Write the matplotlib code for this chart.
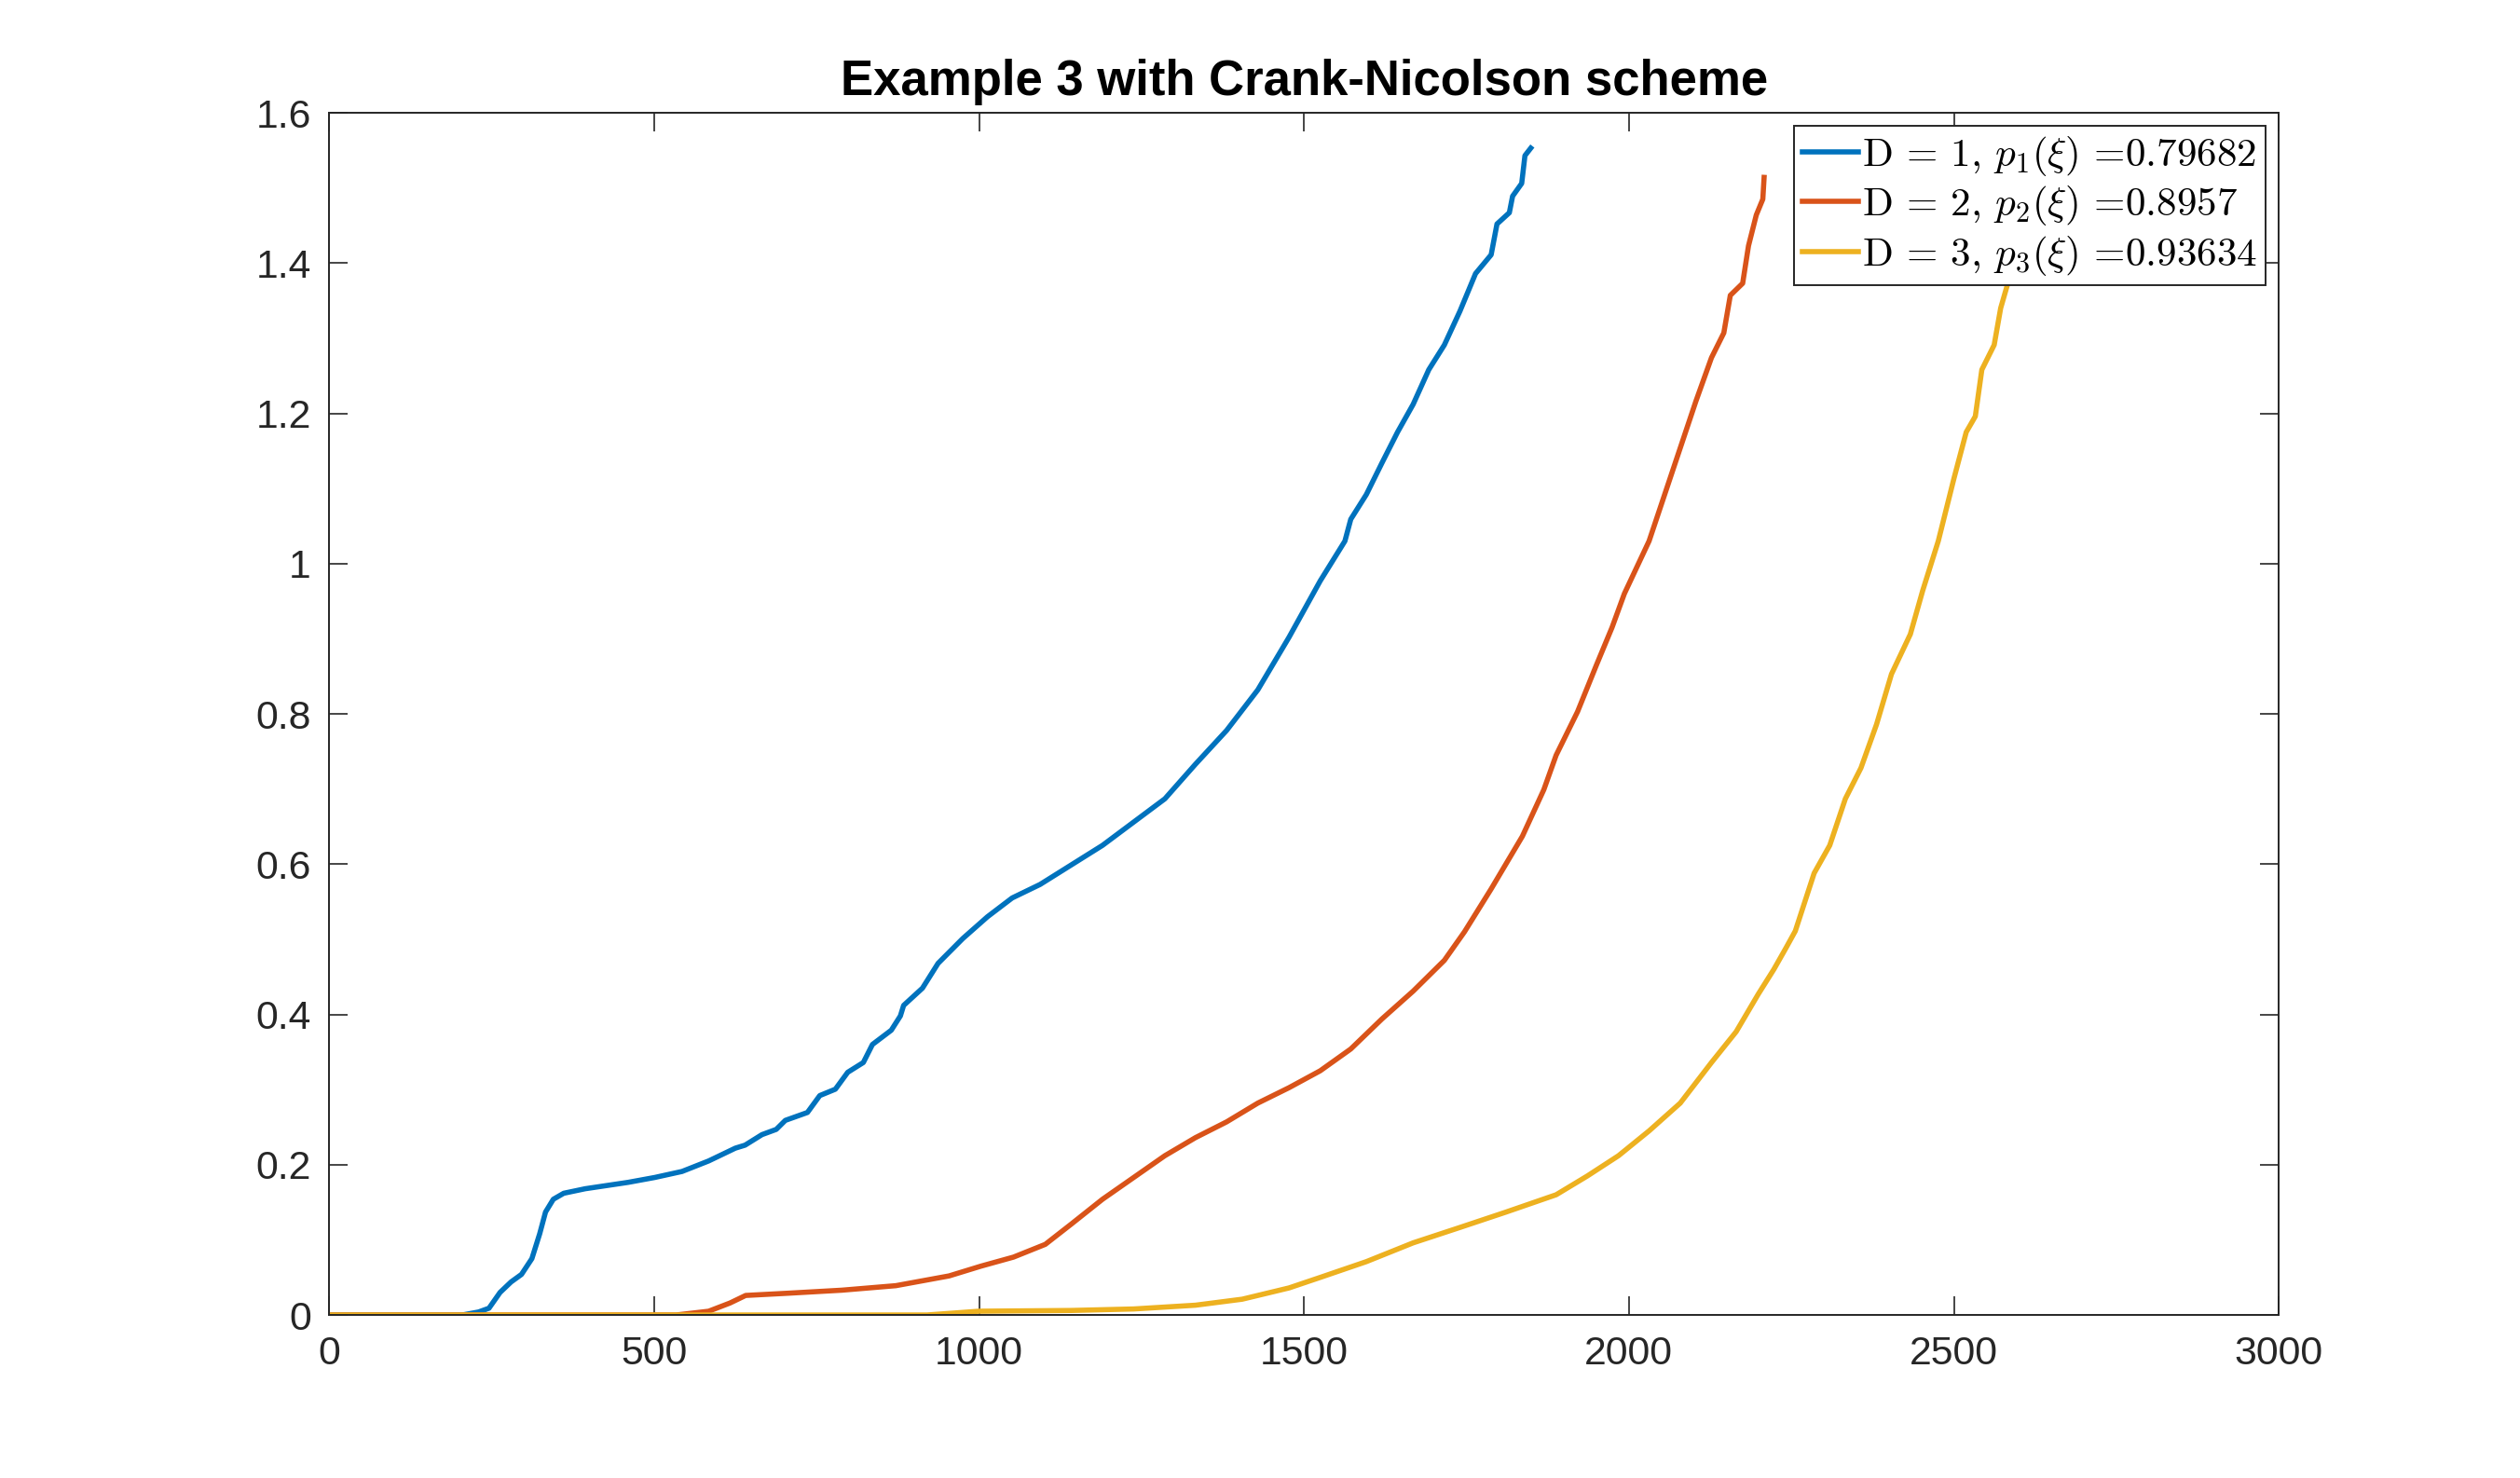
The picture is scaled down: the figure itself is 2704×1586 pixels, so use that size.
import matplotlib
matplotlib.use("Agg")
import matplotlib.pyplot as plt
from matplotlib.ticker import FuncFormatter, FixedLocator

# ---- data ----
x_d1 = [0, 205, 230, 246, 263, 280, 296, 312, 324, 333, 345, 361, 394, 460, 501, 543, 584, 625, 640,
        666, 688, 702, 736, 755, 779, 798, 822, 836, 865, 879, 884, 913, 937, 975, 1013, 1051, 1094,
        1142, 1190, 1238, 1286, 1333, 1381, 1429, 1477, 1525, 1563, 1572, 1596, 1620, 1644, 1668, 1692,
        1716, 1740, 1764, 1788, 1797, 1816, 1821, 1835, 1840, 1849]
y_d1 = [0, 0, 0.004, 0.009, 0.030, 0.044, 0.054, 0.075, 0.108, 0.137, 0.154, 0.162, 0.168, 0.1765, 0.183,
        0.191, 0.205, 0.222, 0.226, 0.240, 0.247, 0.259, 0.2695, 0.292, 0.3005, 0.323, 0.336, 0.360, 0.379,
        0.398, 0.412, 0.435, 0.468, 0.501, 0.530, 0.555, 0.573, 0.599, 0.625, 0.656, 0.687, 0.733, 0.778,
        0.832, 0.902, 0.977, 1.030, 1.059, 1.092, 1.134, 1.175, 1.212, 1.258, 1.291, 1.336, 1.386, 1.411,
        1.452, 1.467, 1.489, 1.506, 1.543, 1.553]

x_d2 = [0, 534, 584, 617, 641, 707, 789, 872, 954, 1003, 1053, 1102, 1142, 1190, 1238, 1286, 1333, 1381,
        1429, 1477, 1525, 1572, 1620, 1668, 1716, 1747, 1788, 1836, 1869, 1888, 1921, 1950, 1974, 1993,
        2031, 2055, 2079, 2103, 2127, 2146, 2156, 2175, 2184, 2196, 2206, 2208]
y_d2 = [0, 0, 0.005, 0.016, 0.026, 0.029, 0.033, 0.039, 0.052, 0.065, 0.077, 0.094, 0.121, 0.154, 0.183,
        0.212, 0.236, 0.257, 0.282, 0.3025, 0.325, 0.354, 0.394, 0.431, 0.472, 0.510, 0.567, 0.637, 0.699,
        0.745, 0.803, 0.865, 0.915, 0.960, 1.030, 1.092, 1.154, 1.216, 1.274, 1.307, 1.357, 1.373, 1.423,
        1.464, 1.485, 1.514]

x_d3 = [0, 920, 1000, 1142, 1238, 1333, 1405, 1477, 1525, 1596, 1668, 1740, 1811, 1888, 1936, 1984, 2031,
        2079, 2127, 2165, 2199, 2223, 2242, 2256, 2285, 2309, 2333, 2357, 2381, 2404, 2433, 2452, 2476,
        2500, 2519, 2533, 2543, 2562, 2572, 2586, 2600, 2612]
y_d3 = [0, 0, 0.005, 0.006, 0.008, 0.013, 0.021, 0.036, 0.050, 0.071, 0.096, 0.1165, 0.137, 0.160, 0.185,
        0.212, 0.245, 0.282, 0.336, 0.377, 0.427, 0.460, 0.489, 0.511, 0.588, 0.625, 0.687, 0.728, 0.786,
        0.853, 0.906, 0.964, 1.030, 1.113, 1.175, 1.196, 1.258, 1.291, 1.340, 1.382, 1.45, 1.52]

labels = [r'D = 1, $p_1(\xi)$ =0.79682',
          r'D = 2, $p_2(\xi)$ =0.8957',
          r'D = 3, $p_3(\xi)$ =0.93634']
colors = ['#0072BD', '#D95319', '#EDB120']
title = 'Example 3 with Crank-Nicolson scheme'
xticks = [0, 500, 1000, 1500, 2000, 2500, 3000]
yticks = [0, 0.2, 0.4, 0.6, 0.8, 1.0, 1.2, 1.4, 1.6]

plt.rcParams['font.family'] = ['Liberation Sans', 'DejaVu Sans']
plt.rcParams['mathtext.fontset'] = 'cm'
plt.rcParams['axes.unicode_minus'] = False

fig = plt.figure(figsize=(13.52, 7.93), dpi=200)
ax = fig.add_axes([0.1306, 0.1103, 0.7737, 0.8134])

for xs, ys, c, lab in zip([x_d1, x_d2, x_d3], [y_d1, y_d2, y_d3], colors, labels):
    ax.plot(xs, ys, color=c, lw=2.0, label=lab, solid_joinstyle='round')

ax.set_xlim(0, 3000)
ax.set_ylim(0, 1.6)
ax.xaxis.set_major_locator(FixedLocator(xticks))
ax.yaxis.set_major_locator(FixedLocator(yticks))
ax.yaxis.set_major_formatter(FuncFormatter(lambda v, p: '%g' % v))
ax.xaxis.set_major_formatter(FuncFormatter(lambda v, p: '%g' % v))

edge = '#262626'
for s in ax.spines.values():
    s.set_color(edge)
    s.set_linewidth(0.7)
ax.tick_params(direction='in', top=True, right=True, length=7.2, width=0.6,
               color=edge, labelcolor=edge, labelsize=15.4)
ax.tick_params(axis='x', pad=8)
ax.tick_params(axis='y', pad=7)

ax.set_title(title, fontsize=19, fontweight='bold', pad=7, color='black')

leg = ax.legend(loc='upper right', prop={'family': 'cmr10', 'size': 15.5},
                borderaxespad=0.33, handlelength=1.4,
                handletextpad=0.1, borderpad=0.2, labelspacing=0.15, fancybox=False,
                framealpha=1, edgecolor=edge)
leg.get_frame().set_linewidth(0.7)

fig.savefig('out.png', dpi=200, facecolor='white')
